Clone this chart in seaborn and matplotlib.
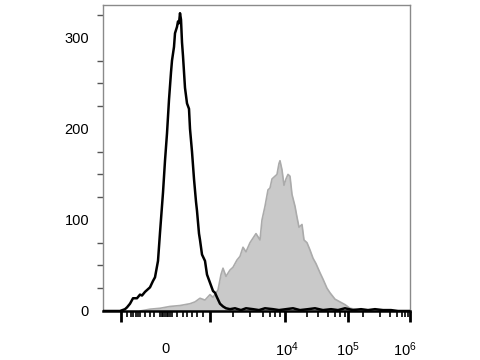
import matplotlib
matplotlib.use("Agg")
import matplotlib.pyplot as plt
import matplotlib.transforms as mtransforms
import seaborn as sns
import pandas as pd

sns.set_style("white")
plt.rcParams['font.family'] = ['Liberation Sans', 'DejaVu Sans']
plt.rcParams['mathtext.fontset'] = 'custom'
plt.rcParams['mathtext.rm'] = 'Liberation Sans'
plt.rcParams['mathtext.it'] = 'Liberation Sans'
plt.rcParams['text.color'] = 'black'
plt.rcParams['xtick.color'] = 'black'
plt.rcParams['ytick.color'] = 'black'

# Black (control) histogram: channel position vs count
black_x = [0, 17, 22, 24, 27, 30, 34, 37, 39, 42, 47, 50, 52, 55, 57, 60, 62, 64, 66, 68, 69, 71, 72,
           74, 75, 76, 77, 78, 79, 80, 82, 84, 86, 87, 89, 91, 93, 94, 96, 97, 99, 102, 104, 107,
           110, 112, 114, 117, 120, 123, 127, 132, 138, 143, 150, 156, 162, 170, 176, 183, 190,
           197, 205, 212, 220, 228, 235, 242, 250, 258, 265, 272, 280, 288, 295, 307]
black_y = [0, 0, 2, 4, 8, 14, 14, 18, 17, 21, 26, 33, 37, 55, 86, 130, 165, 195, 232, 262, 275, 290, 305,
           312, 318, 316, 327, 320, 295, 280, 245, 228, 222, 200, 175, 145, 120, 110, 85, 78, 62, 55, 40, 31,
           22, 20, 15, 8, 5, 3, 2, 3, 1, 3, 2, 1, 3, 2, 1, 2, 3, 1, 2, 3, 1, 2, 1, 3, 1, 2, 1, 2, 1, 1, 0, 0]

# Gray (stained) histogram
gray_x = [37, 47, 57, 67, 77, 87, 92, 97, 102, 107, 110, 115, 118, 120, 123, 127, 130, 134, 137, 140,
          143, 147, 150, 153, 157, 159, 162, 165, 167, 169, 172, 174, 176, 177, 179, 181, 183, 185, 187,
          189, 192, 194, 196, 199, 201, 204, 207, 210, 213, 217, 220, 224, 227, 232, 237, 242, 247, 252,
          257, 264]
gray_y = [0, 2, 3, 5, 6, 8, 10, 14, 12, 18, 15, 23, 40, 47, 38, 45, 48, 56, 60, 70,
          65, 75, 80, 85, 78, 100, 115, 133, 135, 145, 148, 150, 162, 165, 155, 138, 145, 150, 148,
          128, 115, 103, 92, 95, 78, 75, 67, 58, 52, 42, 35, 25, 20, 13, 10, 7, 3, 2,
          1, 0]

y_ticks = [0, 100, 200, 300]
x_tick_labels = ["0", "$10^4$", "$10^5$", "$10^6$"]
x_label_pos = [62, 184, 245, 302]

fig = plt.figure(figsize=(4.8, 3.6), dpi=100)
ax = fig.add_axes([103 / 480, 49 / 360, 307 / 480, 306 / 360])

gdf = pd.DataFrame({"x": gray_x, "y": gray_y})
bdf = pd.DataFrame({"x": black_x, "y": black_y})

ax.fill_between(gdf["x"], 0, gdf["y"], color="#c9c9c9", linewidth=0, zorder=1)
sns.lineplot(data=gdf, x="x", y="y", ax=ax, color="#ababab", linewidth=1.2, zorder=2)
sns.lineplot(data=bdf, x="x", y="y", ax=ax, color="black", linewidth=1.8, zorder=3)

ax.set_xlim(0, 307)
ax.set_ylim(0, 336)
ax.set_xlabel("")
ax.set_ylabel("")

# spines
for s in ["top", "right", "left"]:
    ax.spines[s].set_color("#8a8a8a")
    ax.spines[s].set_linewidth(1.0)
ax.spines["bottom"].set_color("black")
ax.spines["bottom"].set_linewidth(1.8)

# y ticks
ax.set_yticks(y_ticks)
ax.set_yticklabels([str(v) for v in y_ticks], fontsize=10.5, color="black")
ax.set_yticks([25, 50, 75, 125, 150, 175, 225, 250, 275, 325], minor=True)
ax.tick_params(axis="y", which="major", direction="out", length=6, width=2, color="black", pad=4)
ax.tick_params(axis="y", which="minor", direction="out", length=4, width=1, color="#555555", left=True)

# x ticks (biexponential style marks)
major_px = [121, 210, 285, 348, 410]
minor_px = [127, 131, 133, 136, 138, 140, 145, 150, 154, 160, 162, 163, 165, 167, 168, 170, 172, 177,
            183, 187, 192, 197, 203, 233, 250, 263, 270, 275, 280, 307, 318, 328, 335, 340, 345,
            363, 380, 390, 397, 402, 405, 408]
ax.set_xticks([p - 103 for p in major_px])
ax.set_xticklabels([])
ax.set_xticks([p - 103 for p in minor_px], minor=True)
ax.tick_params(axis="x", which="major", direction="out", length=8, width=2, color="black", bottom=True)
ax.tick_params(axis="x", which="minor", direction="out", length=4, width=1.2, color="black", bottom=True)

trans = mtransforms.blended_transform_factory(ax.transData, ax.transAxes)
for pos, lab in zip(x_label_pos, x_tick_labels):
    ax.text(pos, -0.125, lab, transform=trans, ha="center", va="center", fontsize=10.5, color="black")

fig.savefig("out.png", dpi=100)
